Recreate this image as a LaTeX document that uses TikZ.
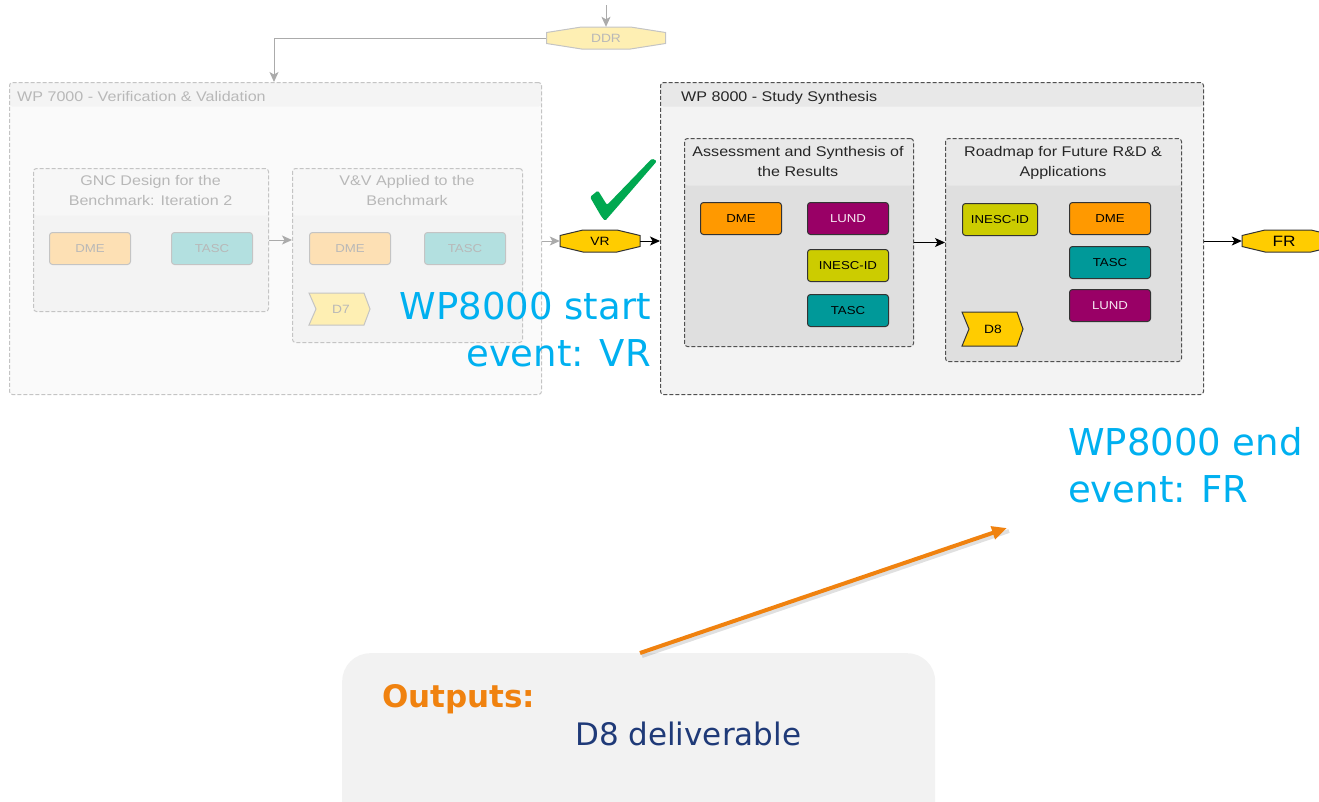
\documentclass[tikz,border=0pt]{standalone}
\usepackage{fontspec}
\setmainfont{Liberation Sans}
\newfontfamily\diagfont[FakeStretch=1.15]{Liberation Sans}
\newfontfamily\verdfont{DejaVu Sans}
\usetikzlibrary{arrows.meta,calc}

\definecolor{fadeborder}{HTML}{C4C4C4}
\definecolor{fadebg}{HTML}{FAFAFA}
\definecolor{fadeband}{HTML}{F4F4F4}
\definecolor{fadesub}{HTML}{F3F3F3}
\definecolor{fadesubband}{HTML}{F7F7F7}
\definecolor{fadetext}{HTML}{B8B8B8}
\definecolor{fadeorange}{HTML}{FDE0B4}
\definecolor{fadeteal}{HTML}{B3E0E0}
\definecolor{fadeyellow}{HTML}{FEEFB3}
\definecolor{fadearrow}{HTML}{ABABAB}
\definecolor{wpborder}{HTML}{505050}
\definecolor{wpbg}{HTML}{F3F3F3}
\definecolor{wpband}{HTML}{E8E8E8}
\definecolor{subbg}{HTML}{DFDFDF}
\definecolor{subband}{HTML}{E9E9E9}
\definecolor{compborder}{HTML}{333333}
\definecolor{orangec}{HTML}{FF9900}
\definecolor{purplec}{HTML}{990066}
\definecolor{olivec}{HTML}{CCCC00}
\definecolor{tealc}{HTML}{009999}
\definecolor{goldc}{HTML}{FFCC00}
\definecolor{greenc}{HTML}{00A850}
\definecolor{bluec}{HTML}{00B0F0}
\definecolor{arrowor}{HTML}{F0820F}
\definecolor{navyc}{HTML}{1F3A78}
\definecolor{outbg}{HTML}{F2F2F2}

% cx cy halfwidth slope style
\newcommand\octshape[5]{%
  \path[#5] (#1-#3,#2-5.5) -- (#1-#3+#4,#2-11) -- (#1+#3-#4,#2-11) -- (#1+#3,#2-5.5)
   -- (#1+#3,#2+5.5) -- (#1+#3-#4,#2+11) -- (#1-#3+#4,#2+11) -- (#1-#3,#2+5.5) -- cycle;}
% x1 y1 x2 y2 style
\newcommand\chevshape[5]{%
  \path[#5] (#1,#2) -- (#3-6,#2) -- (#3,{(#2+#4)/2}) -- (#3-6,#4) -- (#1,#4)
   -- (#1+7,{(#2+#4)/2}) -- cycle;}

\tikzset{
  band/.style 2 args={path picture={\fill[#1] (path picture bounding box.north west)
     rectangle ([yshift=-#2]path picture bounding box.north east);}},
  boxbase/.style={inner sep=0pt, anchor=north west, line width=1pt,
     dash pattern=on 4pt off 2pt, rounded corners=3pt},
  wpfade/.style={boxbase, draw=fadeborder, fill=fadebg},
  subfade/.style={boxbase, draw=fadeborder, fill=fadesub},
  wpbox/.style={boxbase, draw=wpborder, fill=wpbg},
  subbox/.style={boxbase, draw=wpborder, fill=subbg},
  titletxt/.style={inner sep=0pt, anchor=base west, font=\diagfont\fontsize{14}{20}\selectfont},
  subtitle/.style={inner sep=0pt, align=center, font=\diagfont\fontsize{14}{20}\selectfont},
  comp/.style={draw=compborder, line width=1pt, rounded corners=3pt, minimum width=81pt,
     minimum height=32pt, inner sep=0pt, anchor=north west,
     font=\diagfont\fontsize{11.5}{12}\selectfont},
  compfade/.style={comp, draw=fadeborder, text=fadetext},
  evtxt/.style={inner sep=0pt, font=\diagfont\fontsize{12}{12}\selectfont},
  garrow/.style={draw=fadearrow, line width=1pt, -{Stealth[length=10pt,width=9pt,inset=2.5pt]}},
  barrow/.style={draw=black, line width=1pt, -{Stealth[length=10pt,width=9pt,inset=2.5pt]}},
  bigblue/.style={inner sep=0pt, text=bluec, font=\verdfont\fontsize{37}{47}\selectfont},
}

\begin{document}
\begin{tikzpicture}[x=1pt,y=-1pt]
\useasboundingbox (0,0) rectangle (1319,801);
\clip (0,0) rectangle (1319,801);

% ---------------- WP 7000 (faded) ----------------
\node[wpfade, minimum width=532pt, minimum height=312pt, band={fadeband}{24pt}] (wp7) at (9,82) {};
\node[titletxt, text=fadetext] (wp7t) at (17,101) {WP 7000 - Verification \& Validation};

\node[subfade, minimum width=235pt, minimum height=143pt, band={fadesubband}{47pt}] (gnc) at (33,168) {};
\node[subtitle, text=fadetext] (gnct) at (150.5,190) {GNC Design for the\\Benchmark: Iteration 2};
\node[compfade, fill=fadeorange] (gdme) at (49,232) {DME};
\node[compfade, fill=fadeteal] (gtasc) at (171,232) {TASC};

\node[subfade, minimum width=230pt, minimum height=174pt, band={fadesubband}{47pt}] (vv) at (292,168) {};
\node[subtitle, text=fadetext] (vvt) at (407,190) {V\&V Applied to the\\Benchmark};
\node[compfade, fill=fadeorange] (vdme) at (309,232) {DME};
\node[compfade, fill=fadeteal] (vtasc) at (424,232) {TASC};
\chevshape{309}{293}{370}{325}{draw=fadeborder, fill=fadeyellow, line width=1pt}
\node[evtxt, text=fadetext] (d7) at (341,309) {D7};

\draw[garrow] (gnc.east) -- (gnc.east -| vv.west);

% ---------------- DDR ----------------
\octshape{606}{38}{59.5}{35}{draw=fadeborder, fill=fadeyellow, line width=1pt}
\node[evtxt, text=fadetext, minimum width=119pt, minimum height=22pt] (ddr) at (606,38) {DDR};
\coordinate (ddrin) at (606,5);
\draw[garrow] (ddrin) -- (ddr.north);
\draw[garrow] (ddr.west) -| ($(wp7.north west)+(265,0)$);

% ---------------- VR ----------------
\octshape{600}{241}{40}{23}{draw=compborder, fill=goldc, line width=1pt}
\node[evtxt, minimum width=80pt, minimum height=22pt] (vr) at (600,241) {VR};
\draw[garrow] (vr.west -| wp7.east) -- (vr.west);

% ---------------- WP 8000 ----------------
\node[wpbox, minimum width=543pt, minimum height=312pt, band={wpband}{24pt}] (wp8) at (660,82) {};
\node[titletxt, text=black!85] (wp8t) at (681,101) {WP 8000 - Study Synthesis};
\draw[barrow] (vr.east) -- (vr.east -| wp8.west);

\node[subbox, minimum width=229pt, minimum height=208pt, band={subband}{47pt}] (asr) at (684,138) {};
\node[subtitle, text=black!85] (asrt) at (798,161) {Assessment and Synthesis of\\the Results};
\node[comp, fill=orangec] (adme) at (700,202) {DME};
\node[comp, fill=purplec, text=white!92!purplec] (alund) at (807,202) {LUND};
\node[comp, fill=olivec] (aines) at (807,249) {INESC-ID};
\node[comp, fill=tealc] (atasc) at (807,294) {TASC};

\node[subbox, minimum width=236pt, minimum height=223pt, band={subband}{47pt}] (road) at (945,138) {};
\node[subtitle, text=black!85] (roadt) at (1063,163) {Roadmap for Future R\&D \&\\Applications};
\node[comp, fill=olivec, minimum width=75pt] (rines) at (962,203) {INESC-ID};
\node[comp, fill=orangec] (rdme) at (1069,202) {DME};
\node[comp, fill=tealc] (rtasc) at (1069,246) {TASC};
\node[comp, fill=purplec, text=white!92!purplec] (rlund) at (1069,289) {LUND};
\chevshape{962}{312}{1023}{346}{draw=compborder, fill=goldc, line width=1pt}
\node[evtxt] (d8) at (993,329) {D8};

\draw[barrow] (asr.east) -- (asr.east -| road.west);

% ---------------- FR ----------------
\octshape{1288}{241}{46}{23}{draw=compborder, fill=goldc, line width=1pt}
\node[evtxt, font=\diagfont\fontsize{15}{15}\selectfont, minimum width=84pt, minimum height=22pt] (fr) at (1284,241) {FR};
\draw[barrow] (fr.west -| wp8.east) -- (fr.west);

% ---------------- check mark ----------------
\fill[greenc, rounded corners=1.5pt] (590,197) -- (598,190.5) -- (607,205) -- (652,158.5)
  -- (657,161) -- (612,213) -- (605,221) -- (601,216) -- cycle;

% ---------------- annotations ----------------
\node[bigblue, anchor=base east] (vrnote1) at (651,319) {WP8000 start};
\node[bigblue, anchor=base east] (vrnote2) at (651,366) {event: VR};
\node[bigblue, anchor=base west] (frnote1) at (1068,455) {WP8000 end};
\node[bigblue, anchor=base west] (frnote2) at (1068,502) {event: FR};

% ---------------- outputs ----------------
\node[fill=outbg, rounded corners=28pt, minimum width=593pt, minimum height=180pt,
      anchor=north west, inner sep=0pt] (outbox) at (342,653) {};
\node[anchor=base west, inner sep=0pt, text=arrowor,
      font=\verdfont\bfseries\fontsize{31}{37}\selectfont] (outt) at (382,707) {Outputs:};
\node[anchor=base west, inner sep=0pt, text=navyc,
      font=\verdfont\fontsize{31}{37}\selectfont] (outd) at (575,745) {D8 deliverable};
\coordinate (oend) at (1007,528);
\draw[line width=4pt, black, opacity=0.12, transform canvas={shift={(2pt,-3pt)}}]
  ($(outbox.north west)+(298,0)$) -- (oend);
\draw[line width=4pt, draw=arrowor, -{Triangle[length=15pt,width=13pt]}]
  ($(outbox.north west)+(298,0)$) -- (oend);
\end{tikzpicture}
\end{document}
